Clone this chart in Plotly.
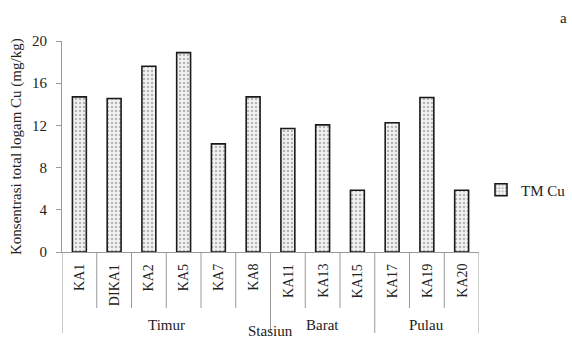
import plotly.graph_objects as go

stations = ["KA1", "DIKA1", "KA2", "KA5", "KA7", "KA8", "KA11", "KA13", "KA15", "KA17", "KA19", "KA20"]
values = [14.7, 14.55, 17.6, 18.9, 10.25, 14.7, 11.7, 12.05, 5.85, 12.25, 14.65, 5.85]
groups = ["Timur", "Barat", "Pulau"]
group_sizes = [6, 3, 3]
y_ticks = [0, 4, 8, 12, 16, 20]

FONT = "Liberation Serif"
W, H = 572, 340
L, R, T, B = 62, 93, 41, 88
ph = H - T - B
pw = W - L - R

def py(pix):
    return (H - B - pix) / ph

def px(pix):
    return (pix - L) / pw

fig = go.Figure()
fig.add_trace(go.Bar(
    x=list(range(len(stations))), y=values, name="TM Cu", width=0.4,
    marker=dict(color="#f2f2f2", line=dict(color="#1a1a1a", width=1.6),
                pattern=dict(shape=".", fgcolor="#777777", size=4, solidity=0.3)),
    showlegend=True,
))

shapes = []
annotations = []
n = len(stations)
bounds = [0]
for s in group_sizes:
    bounds.append(bounds[-1] + s)
for i in range(n + 1):
    long = i in bounds
    shapes.append(dict(type="line", xref="x", yref="paper", x0=i - 0.5, x1=i - 0.5,
                       y0=0, y1=py(333 if long else 308),
                       line=dict(color="#9a9a9a", width=1)))
for i, s in enumerate(stations):
    annotations.append(dict(x=i, y=py(262), xref="x", yref="paper", text=s, showarrow=False,
                            textangle=-90, yanchor="top", xanchor="center",
                            font=dict(family=FONT, size=14, color="#222")))
for g, (a, b) in zip(groups, zip(bounds[:-1], bounds[1:])):
    annotations.append(dict(x=(a + b - 1) / 2, y=py(325), xref="x", yref="paper", text=g,
                            showarrow=False, yanchor="middle",
                            font=dict(family=FONT, size=15, color="#222")))
annotations.append(dict(x=px(270), y=py(331), xref="paper", yref="paper",
                        text="Stasiun", showarrow=False, yanchor="middle",
                        font=dict(family=FONT, size=15, color="#222")))
annotations.append(dict(x=px(16), y=py(147), xref="paper", yref="paper",
                        text="Konsentrasi total logam Cu (mg/kg)", showarrow=False,
                        textangle=-90, xanchor="center", yanchor="middle",
                        font=dict(family=FONT, size=15, color="#222")))
annotations.append(dict(x=px(563), y=py(18), xref="paper", yref="paper",
                        text="a", showarrow=False, xanchor="center", yanchor="middle",
                        font=dict(family=FONT, size=15, color="#222")))

fig.update_layout(
    width=W, height=H, margin=dict(l=L, r=R, t=T, b=B, autoexpand=False),
    paper_bgcolor="white", plot_bgcolor="white",
    font=dict(family=FONT, size=15, color="#222"),
    shapes=shapes, annotations=annotations,
    legend=dict(x=px(481), y=py(190), xanchor="left", yanchor="middle",
                font=dict(family=FONT, size=15, color="#222"), bgcolor="rgba(0,0,0,0)"),
    xaxis=dict(range=[-0.5, n - 0.5], showticklabels=False, ticks="", showgrid=False,
               zeroline=False, showline=True, linecolor="#9a9a9a", linewidth=1),
    yaxis=dict(range=[0, 20], tickvals=y_ticks, showgrid=False, zeroline=False,
               showline=True, linecolor="#9a9a9a", linewidth=1, ticks="outside",
               ticklen=5, tickcolor="#9a9a9a", ticklabelstandoff=6,
               tickfont=dict(family=FONT, size=15, color="#222")),
)

fig.write_html("out.html", config={"displayModeBar": False},
               post_script="document.body.style.margin='0';document.body.style.padding='0';")
